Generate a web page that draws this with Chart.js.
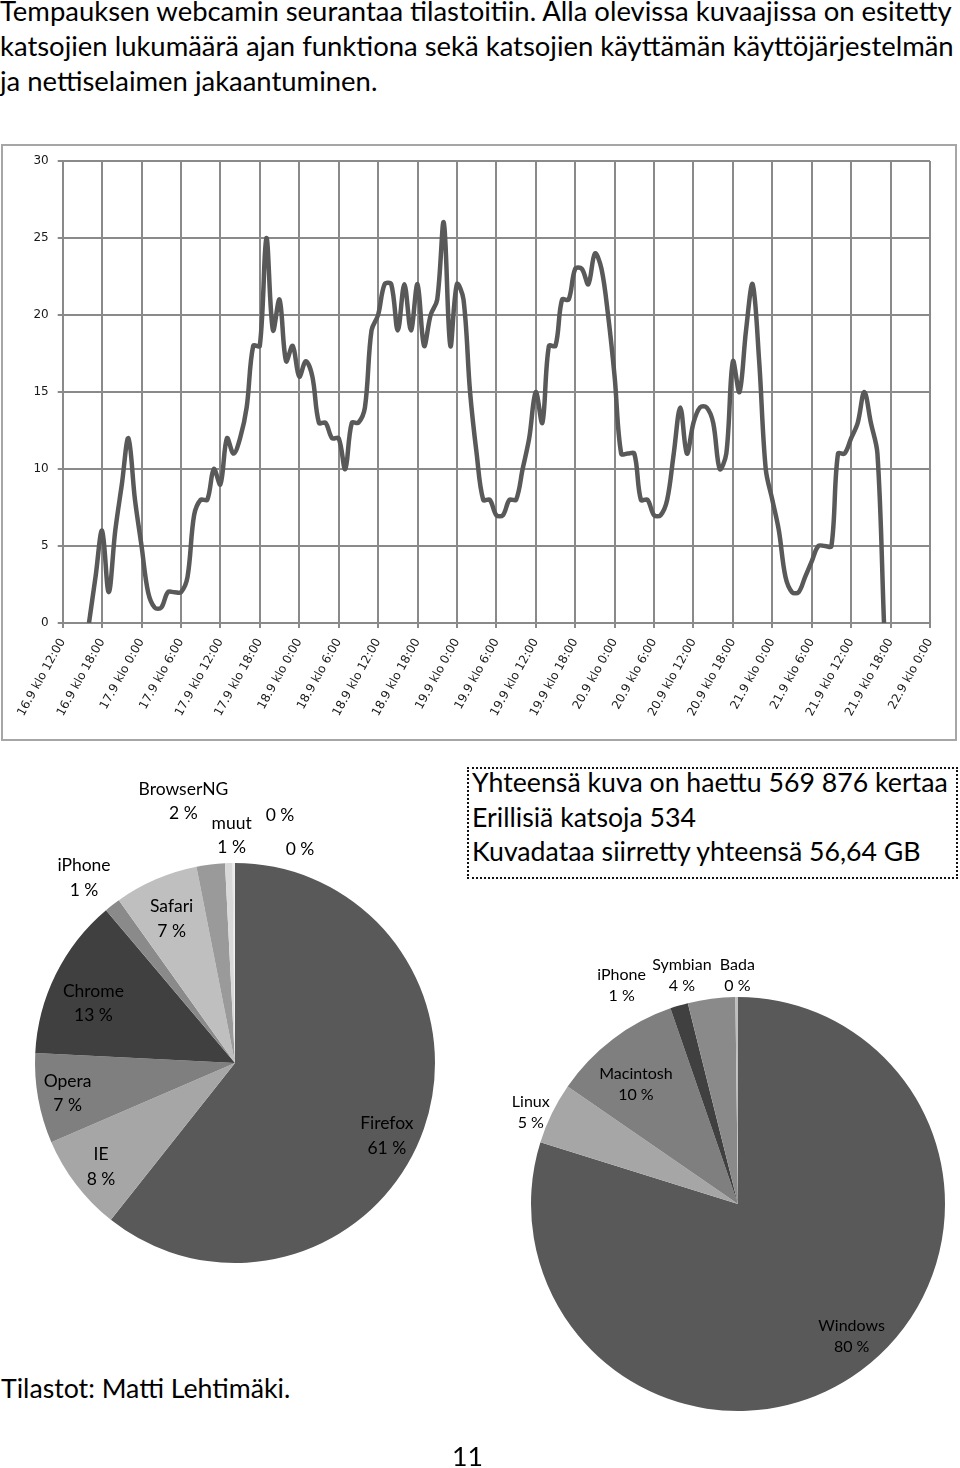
<!DOCTYPE html>
<html lang="fi">
<head>
<meta charset="utf-8">
<title>Webcamin katsojat</title>
<script src="https://cdn.jsdelivr.net/npm/chart.js@4.4.1/dist/chart.umd.min.js"></script>
<style>
  html, body { margin: 0; padding: 0; background: #fff; }
  body { position: relative; width: 960px; height: 1468px; overflow: hidden; font-family: Lato, "Open Sans", sans-serif; color: #000; }
  .line { position: absolute; white-space: nowrap; font-size: 27px; line-height: 35px; }
  #frame { position: absolute; left: 1px; top: 144px; width: 956px; height: 597px; border: 2px solid #a6a6a6; box-sizing: border-box; }
  #statsBox { position: absolute; left: 467px; top: 767px; width: 491px; height: 112px; border: 2px dotted #111; box-sizing: border-box; }
  canvas { position: absolute; }
  #viewersChart { left: 0; top: 140px; }
  #browserChart { left: 0; top: 770px; }
  #osChart { left: 480px; top: 940px; }
</style>
</head>
<body>
<div class="line intro" id="intro1">Tempauksen webcamin seurantaa tilastoitiin. Alla olevissa kuvaajissa on esitetty</div>
<div class="line intro" id="intro2">katsojien lukumäärä ajan funktiona sekä katsojien käyttämän käyttöjärjestelmän</div>
<div class="line intro" id="intro3">ja nettiselaimen jakaantuminen.</div>

<div id="frame"></div>
<canvas id="viewersChart" width="960" height="610"></canvas>

<div id="statsBox"></div>
<div class="line box" id="box1">Yhteensä kuva on haettu 569 876 kertaa</div>
<div class="line box" id="box2">Erillisiä katsoja 534</div>
<div class="line box" id="box3">Kuvadataa siirretty yhteensä 56,64 GB</div>

<canvas id="browserChart" width="460" height="500"></canvas>
<canvas id="osChart" width="480" height="528"></canvas>

<div class="line" id="credits">Tilastot: Matti Lehtimäki.</div>
<div class="line" id="pageNo">11</div>

<script>
// tick labels of the time axis, one every 6 hours
const tickLabels = [
  "16.9 klo 12:00", "16.9 klo 18:00",
  "17.9 klo 0:00", "17.9 klo 6:00", "17.9 klo 12:00", "17.9 klo 18:00",
  "18.9 klo 0:00", "18.9 klo 6:00", "18.9 klo 12:00", "18.9 klo 18:00",
  "19.9 klo 0:00", "19.9 klo 6:00", "19.9 klo 12:00", "19.9 klo 18:00",
  "20.9 klo 0:00", "20.9 klo 6:00", "20.9 klo 12:00", "20.9 klo 18:00",
  "21.9 klo 0:00", "21.9 klo 6:00", "21.9 klo 12:00", "21.9 klo 18:00",
  "22.9 klo 0:00",
];
const hoursPerTick = 6;

// viewers per hour, first value is 16.9 klo 16:00
const firstHour = 4;
const viewers = [
  0, 3, 6, 2, 6, 9, 12, 8, 5, 2,
  1, 1, 2, 2, 2, 3, 7, 8, 8, 10,
  9, 12, 11, 12, 14, 18, 18, 25, 19, 21,
  17, 18, 16, 17, 16, 13, 13, 12, 12, 10,
  13, 13, 14, 19, 20, 22, 22, 19, 22, 19,
  22, 18, 20, 21, 26, 18, 22, 21, 15, 11,
  8, 8, 7, 7, 8, 8, 10, 12, 15, 13,
  18, 18, 21, 21, 23, 23, 22, 24, 23, 20,
  16, 11, 11, 11, 8, 8, 7, 7, 8, 11,
  14, 11, 13, 14, 14, 13, 10, 11, 17, 15,
  19, 22, 17, 10, 8, 6, 3, 2, 2, 3,
  4, 5, 5, 5, 11, 11, 12, 13, 15, 13,
  11, 0,
];

// browser shares (%)
const browsers = ["Firefox", "IE", "Opera", "Chrome", "iPhone", "Safari", "BrowserNG", "muut", "", ""];
const browserShares = [60.9, 7.9, 7.3, 13.1, 1.3, 6.8, 2.3, 0.6, 0.1, 0.1];

// operating system shares (%)
const systems = ["Windows", "Linux", "Macintosh", "iPhone", "Symbian", "Bada"];
const systemShares = [79.9, 4.8, 10.1, 1.4, 3.7, 0.2];

const greys = ["#595959", "#a6a6a6", "#7f7f7f", "#404040", "#8a8a8a", "#bfbfbf", "#9a9a9a", "#d9d9d9", "#e4e4e4", "#eeeeee"];

// set font size so a line gets its width, then put its baseline at y
function placeLine(id, left, baseline, width) {
  const el = document.getElementById(id);
  el.style.left = left + "px";
  el.style.top = "0px";
  if (width) {
    const w = el.getBoundingClientRect().width;
    const size = parseFloat(getComputedStyle(el).fontSize) * width / w;
    document.querySelectorAll("." + el.classList[1]).forEach((n) => (n.style.fontSize = size + "px"));
  }
  const mark = document.createElement("span");
  mark.style.cssText = "display:inline-block;width:0;height:0;";
  el.appendChild(mark);
  const b = mark.getBoundingClientRect().top;
  el.style.top = baseline - b + "px";
  mark.remove();
}

// draws "name / xx %" near each slice, spot is given in units of the radius
function sliceLabels(spots, size, lineHeight) {
  return {
    id: "sliceLabels",
    afterDatasetsDraw(chart) {
      const ctx = chart.ctx;
      const values = chart.data.datasets[0].data;
      const total = values.reduce((a, b) => a + b, 0);
      ctx.save();
      ctx.font = size + "px Lato";
      ctx.fillStyle = "#000";
      ctx.textAlign = "center";
      ctx.textBaseline = "middle";
      chart.getDatasetMeta(0).data.forEach((arc, i) => {
        const x = arc.x + spots[i][0] * arc.outerRadius;
        const y = arc.y + spots[i][1] * arc.outerRadius;
        const pct = Math.round((values[i] / total) * 100) + " %";
        const name = chart.data.labels[i];
        if (name) {
          ctx.fillText(name, x, y - lineHeight / 2);
          ctx.fillText(pct, x, y + lineHeight / 2);
        } else {
          ctx.fillText(pct, x, y);
        }
      });
      ctx.restore();
    },
  };
}

function pieConfig(labels, data, padding, plugin) {
  return {
    type: "pie",
    data: {
      labels: labels,
      datasets: [{ data: data, backgroundColor: greys.slice(0, data.length), borderWidth: 0, hoverBorderWidth: 0, hoverOffset: 0 }],
    },
    options: {
      responsive: false,
      animation: false,
      events: [],
      layout: { padding: padding },
      plugins: { legend: { display: false }, tooltip: { enabled: false } },
    },
    plugins: [plugin],
  };
}

document.addEventListener("DOMContentLoaded", function () {
  placeLine("intro1", 0, 21, 952);
  placeLine("intro2", 0, 56);
  placeLine("intro3", 0, 91);
  placeLine("box1", 472, 792, 476);
  placeLine("box2", 472, 827);
  placeLine("box3", 472, 861);
  document.getElementById("credits").style.fontSize = document.getElementById("box1").style.fontSize;
  document.getElementById("pageNo").style.fontSize = document.getElementById("box1").style.fontSize;
  placeLine("credits", 1, 1398);
  placeLine("pageNo", 452, 1466);

  // Viewers over time
  const gridGrey = "#8a8a8a";
  const tickFont = { family: "DejaVu Sans", size: 12 };
  new Chart(document.getElementById("viewersChart").getContext("2d"), {
    type: "line",
    data: {
      datasets: [
        {
          data: viewers.map((v, i) => ({ x: firstHour + i, y: v })),
          borderColor: "#595959",
          borderWidth: 4.5,
          pointRadius: 0,
          tension: 0.35,
          fill: false,
        },
      ],
    },
    options: {
      responsive: false,
      animation: false,
      events: [],
      layout: { padding: { top: 21, right: 30, bottom: 0, left: 0 } },
      plugins: { legend: { display: false }, tooltip: { enabled: false } },
      scales: {
        x: {
          type: "linear",
          min: 0,
          max: (tickLabels.length - 1) * hoursPerTick,
          afterFit: (scale) => { scale.height = 127; },
          ticks: {
            stepSize: hoursPerTick,
            autoSkip: false,
            minRotation: 61,
            maxRotation: 61,
            padding: 8,
            color: "#1a1a1a",
            font: tickFont,
            callback: (v) => tickLabels[v / hoursPerTick],
          },
          grid: { color: gridGrey, lineWidth: 2, tickLength: 5 },
          border: { color: gridGrey, width: 2 },
        },
        y: {
          min: 0,
          max: 30,
          afterFit: (scale) => { scale.width = 62.7; },
          ticks: { stepSize: 5, padding: 9, color: "#1a1a1a", font: tickFont },
          grid: { color: gridGrey, lineWidth: 2, tickLength: 5 },
          border: { color: gridGrey, width: 2 },
        },
      },
    },
  });

  // Browsers
  new Chart(
    document.getElementById("browserChart").getContext("2d"),
    pieConfig(
      browsers,
      browserShares,
      { left: 35, top: 93, right: 25, bottom: 7 },
      sliceLabels(
        [[0.759, 0.364], [-0.67, 0.52], [-0.837, 0.152], [-0.708, -0.298], [-0.755, -0.925],
         [-0.317, -0.721], [-0.258, -1.307], [-0.017, -1.138], [0.225, -1.24], [0.325, -1.068]],
        17.5, 24.5
      )
    )
  );

  // Operating systems
  new Chart(
    document.getElementById("osChart").getContext("2d"),
    pieConfig(
      systems,
      systemShares,
      { left: 51, top: 57, right: 15, bottom: 57 },
      sliceLabels(
        [[0.549, 0.639], [-1.001, -0.443], [-0.493, -0.577], [-0.562, -1.056], [-0.271, -1.106], [-0.003, -1.106]],
        16, 21
      )
    )
  );
});
</script>
</body>
</html>
